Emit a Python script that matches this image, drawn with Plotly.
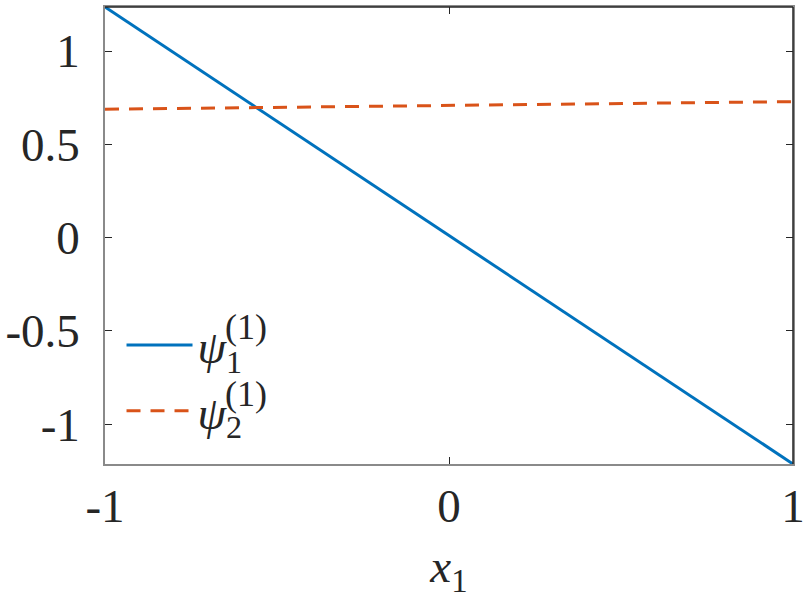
import plotly.graph_objects as go

x_vals = [-1.0, 1.0]
psi1 = [1.236, -1.213]
psi2 = [0.688, 0.729]

x_ticks = [-1, 0, 1]
x_tick_text = ["-1", "0", "1"]
y_ticks = [-1, -0.5, 0, 0.5, 1]
y_tick_text = ["-1", "-0.5", "0", "0.5", "1"]

names = ["<i>ψ</i><sub>1</sub>", "<i>ψ</i><sub>2</sub>"]
sup_text = "(1)"
colors = ["#0072BD", "#D95319"]

FONT = "Liberation Serif"
TXT = "#262626"

fig = go.Figure()
fig.add_trace(go.Scatter(x=x_vals, y=psi1, mode="lines", name=names[0],
                         line=dict(color=colors[0], width=3), legendgroup="a"))
fig.add_trace(go.Scatter(x=x_vals, y=psi2, mode="lines", name=names[1],
                         line=dict(color=colors[1], width=3, dash="14px,10px"), legendgroup="b"))

axis_common = dict(showgrid=False, zeroline=False, ticks="inside", ticklen=7,
                   tickcolor=TXT, linecolor="#8a8a8a", linewidth=1.5,
                   mirror="ticks", showline=True,
                   tickfont=dict(family=FONT, size=47, color=TXT))

fig.update_xaxes(range=[-1, 1], tickvals=x_ticks, ticktext=x_tick_text,
                 ticklabelstandoff=0,
                 title=dict(text="<i>x</i><sub>1</sub>", font=dict(family=FONT, size=47, color=TXT),
                            standoff=18),
                 **axis_common)
fig.update_yaxes(range=[psi1[1], psi1[0]], tickvals=y_ticks, ticktext=y_tick_text,
                 ticklabelstandoff=14, **axis_common)

fig.add_shape(type="line", xref="paper", yref="paper", x0=0, x1=1, y0=1, y1=1,
              line=dict(color=TXT, width=1.5))
fig.add_shape(type="line", xref="paper", yref="paper", x0=1, x1=1, y0=0, y1=1,
              line=dict(color=TXT, width=1.5))

for yy in [0.30, 0.153]:
    fig.add_annotation(xref="paper", yref="paper", x=0.172, y=yy, xanchor="left", yanchor="middle",
                       text=sup_text, showarrow=False,
                       font=dict(family=FONT, size=36, color=TXT))

fig.update_layout(
    width=811, height=607,
    margin=dict(l=103, r=18, t=5, b=143),
    plot_bgcolor="white", paper_bgcolor="white",
    legend=dict(x=0.024, y=0.34, xanchor="left", yanchor="top",
                bgcolor="rgba(0,0,0,0)", itemwidth=66, tracegroupgap=3,
                font=dict(family=FONT, size=46, color=TXT)),
    showlegend=True,
)

fig.write_html("out.html")
